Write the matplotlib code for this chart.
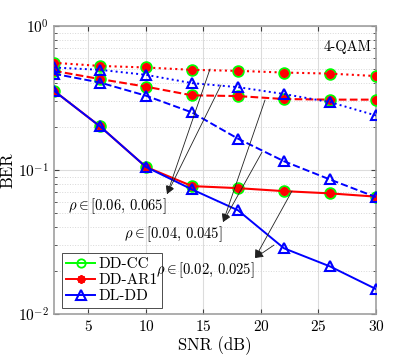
import matplotlib
matplotlib.use("Agg")
import matplotlib.pyplot as plt
from matplotlib.lines import Line2D
import numpy as np

plt.rcParams['font.family'] = 'serif'
plt.rcParams['font.serif'] = ['cmr10']
plt.rcParams['mathtext.fontset'] = 'cm'
plt.rcParams['axes.formatter.use_mathtext'] = True

snr = [2, 6, 10, 14, 18, 22, 26, 30]

# rho in [0.06, 0.065] (dotted)
dd_06 = [0.555, 0.528, 0.515, 0.496, 0.488, 0.475, 0.467, 0.449]
dl_06 = [0.515, 0.496, 0.458, 0.401, 0.376, 0.337, 0.296, 0.239]
# rho in [0.04, 0.045] (dashed)
dd_04 = [0.488, 0.428, 0.379, 0.330, 0.326, 0.311, 0.308, 0.308]
dl_04 = [0.466, 0.405, 0.328, 0.251, 0.165, 0.115, 0.0859, 0.0648]
# rho in [0.02, 0.025] (solid)
dd_02 = [0.355, 0.201, 0.105, 0.0773, 0.0748, 0.0713, 0.0688, 0.0653]
dl_02 = [0.355, 0.201, 0.105, 0.0733, 0.0525, 0.0286, 0.0214, 0.0149]

labels = ['DD-CC', 'DD-AR1', 'DL-DD']
ann_texts = [r'$\rho \in [0.06,\,0.065]$', r'$\rho \in [0.04,\,0.045]$', r'$\rho \in [0.02,\,0.025]$']

fig = plt.figure(figsize=(4.15, 3.56), dpi=100)
ax = fig.add_axes([0.130, 0.118, 0.776, 0.809])

groups = [(dd_06, dl_06, ':'), (dd_04, dl_04, '--'), (dd_02, dl_02, '-')]
for dd, dl, ls in groups:
    ax.plot(snr, dd, color='#00ff00', ls='none', marker='o', ms=7.5,
            mfc='none', mec='#00ff00', mew=1.5, zorder=3)
    ax.plot(snr, dd, color='#ff0000', ls=ls, lw=1.5, marker='o', ms=5.5,
            mfc='#ff0000', mec='#ff0000', mew=1, zorder=4)
    ax.plot(snr, dl, color='#0000ff', ls=ls, lw=1.4, marker='^', ms=7.5,
            mfc='none', mec='#0000ff', mew=1.5, zorder=5)

ax.set_yscale('log')
ax.set_xlim(2, 30)
ax.set_ylim(1e-2, 1)
ax.set_xticks([5, 10, 15, 20, 25, 30])
ax.grid(True, which='major', color='#dcdcdc', lw=0.8, ls='-')
ax.grid(True, which='minor', axis='y', color='#d8d8d8', lw=0.7, ls=':')
ax.tick_params(which='both', direction='in', top=True, right=True, labelsize=11,
               color='#404040')
for s in ax.spines.values():
    s.set_color('#a0a0a0')
    s.set_linewidth(1.2)
ax.set_xlabel('SNR (dB)', fontsize=12, labelpad=2)
ax.set_ylabel('BER', fontsize=12, labelpad=2)

ax.text(0.985, 0.95, '4-QAM', transform=ax.transAxes, ha='right', va='top', fontsize=10.5)

# annotations: tip and two source points (data coords)
anns = [((11.83, 0.068), [(15.57, 0.503), (16.52, 0.389)]),
        ((16.7, 0.0435), [(20.35, 0.306), (20.09, 0.133)]),
        ((19.48, 0.0245), [(22.7, 0.0715), (21.13, 0.0301)])]
for (tip, srcs), txt in zip(anns, ann_texts):
    for src in srcs:
        ax.annotate('', xy=tip, xytext=src,
                    arrowprops=dict(arrowstyle='-|>', color='#202020', lw=0.6,
                                    mutation_scale=12, shrinkA=0, shrinkB=0), zorder=6)
    ax.text(tip[0], tip[1] * 0.96, txt, ha='right', va='top', fontsize=10.5, zorder=7)

handles = [Line2D([], [], color='#00ff00', lw=1.4, marker='o', ms=6, mfc='none', mec='#00ff00', mew=1.3),
           Line2D([], [], color='#ff0000', lw=1.4, marker=(8, 2, 0), ms=6, mec='#ff0000', mew=1.5),
           Line2D([], [], color='#0000ff', lw=1.4, marker='^', ms=7, mfc='none', mec='#0000ff', mew=1.5)]
leg = ax.legend(handles, labels, loc='lower left', bbox_to_anchor=(0.015, 0.01), fontsize=11,
                frameon=True, fancybox=False, edgecolor='#303030', framealpha=1,
                handlelength=1.9, handletextpad=0.2, borderpad=0.3, labelspacing=0.15,
                borderaxespad=0.2)
leg.get_frame().set_linewidth(0.6)

fig.savefig('out.png', dpi=100)
